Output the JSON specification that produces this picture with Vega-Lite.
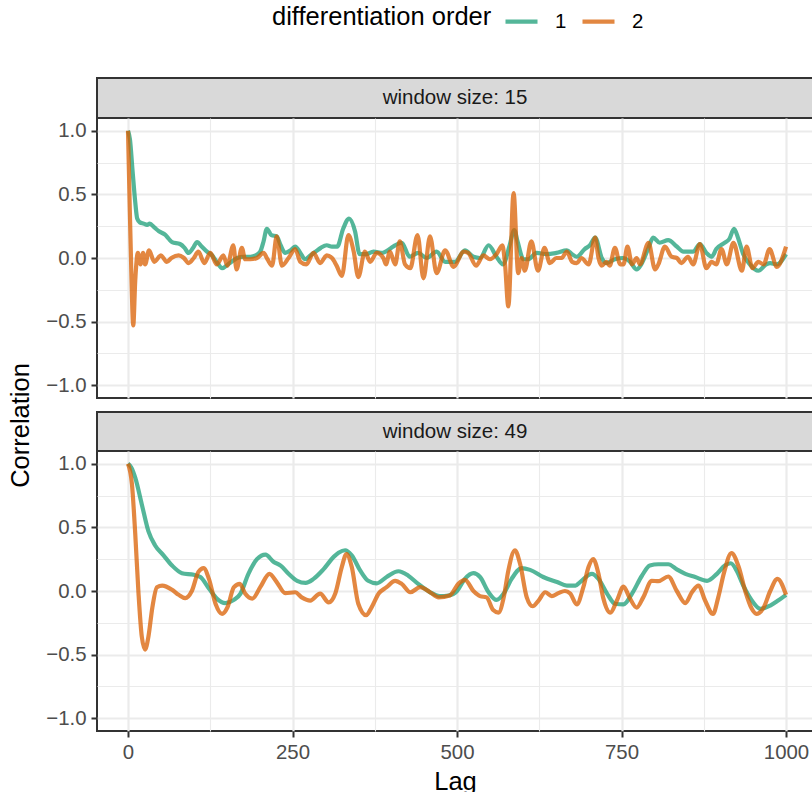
{
  "$schema": "https://vega.github.io/schema/vega-lite/v6.json",
  "padding": {"left": 7, "top": 3, "right": 0, "bottom": 0},
  "datasets": {
    "w15": [
      {"lag":0,"r":1.0,"order":"1"},{"lag":3,"r":0.93,"order":"1"},{"lag":7,"r":0.68,"order":"1"},{"lag":11,"r":0.44,"order":"1"},{"lag":14,"r":0.31,"order":"1"},{"lag":18,"r":0.28,"order":"1"},{"lag":24,"r":0.27,"order":"1"},{"lag":29,"r":0.26,"order":"1"},{"lag":33,"r":0.27,"order":"1"},{"lag":40,"r":0.24,"order":"1"},{"lag":47,"r":0.21,"order":"1"},{"lag":57,"r":0.18,"order":"1"},{"lag":62,"r":0.15,"order":"1"},{"lag":67,"r":0.125,"order":"1"},{"lag":79,"r":0.11,"order":"1"},{"lag":86,"r":0.08,"order":"1"},{"lag":92,"r":0.04,"order":"1"},{"lag":99,"r":0.08,"order":"1"},{"lag":105,"r":0.125,"order":"1"},{"lag":112,"r":0.09,"order":"1"},{"lag":120,"r":0.05,"order":"1"},{"lag":128,"r":0.02,"order":"1"},{"lag":136,"r":-0.04,"order":"1"},{"lag":143,"r":-0.08,"order":"1"},{"lag":152,"r":-0.05,"order":"1"},{"lag":160,"r":-0.02,"order":"1"},{"lag":166,"r":0.0,"order":"1"},{"lag":176,"r":0.01,"order":"1"},{"lag":186,"r":0.01,"order":"1"},{"lag":194,"r":0.02,"order":"1"},{"lag":201,"r":0.05,"order":"1"},{"lag":206,"r":0.13,"order":"1"},{"lag":211,"r":0.23,"order":"1"},{"lag":218,"r":0.18,"order":"1"},{"lag":226,"r":0.17,"order":"1"},{"lag":232,"r":0.1,"order":"1"},{"lag":239,"r":0.04,"order":"1"},{"lag":247,"r":0.06,"order":"1"},{"lag":254,"r":0.09,"order":"1"},{"lag":262,"r":0.04,"order":"1"},{"lag":269,"r":-0.01,"order":"1"},{"lag":277,"r":0.02,"order":"1"},{"lag":285,"r":0.05,"order":"1"},{"lag":293,"r":0.08,"order":"1"},{"lag":302,"r":0.1,"order":"1"},{"lag":310,"r":0.09,"order":"1"},{"lag":318,"r":0.09,"order":"1"},{"lag":327,"r":0.23,"order":"1"},{"lag":336,"r":0.31,"order":"1"},{"lag":345,"r":0.21,"order":"1"},{"lag":352,"r":0.03,"order":"1"},{"lag":362,"r":0.03,"order":"1"},{"lag":373,"r":0.05,"order":"1"},{"lag":387,"r":0.04,"order":"1"},{"lag":395,"r":0.06,"order":"1"},{"lag":403,"r":0.09,"order":"1"},{"lag":416,"r":0.12,"order":"1"},{"lag":428,"r":0.01,"order":"1"},{"lag":441,"r":0.04,"order":"1"},{"lag":454,"r":0.0,"order":"1"},{"lag":469,"r":0.05,"order":"1"},{"lag":482,"r":-0.03,"order":"1"},{"lag":497,"r":-0.03,"order":"1"},{"lag":512,"r":0.06,"order":"1"},{"lag":525,"r":0.01,"order":"1"},{"lag":535,"r":0.0,"order":"1"},{"lag":548,"r":0.1,"order":"1"},{"lag":560,"r":0.01,"order":"1"},{"lag":570,"r":-0.05,"order":"1"},{"lag":580,"r":0.1,"order":"1"},{"lag":587,"r":0.22,"order":"1"},{"lag":592,"r":0.13,"order":"1"},{"lag":601,"r":-0.01,"order":"1"},{"lag":608,"r":-0.01,"order":"1"},{"lag":621,"r":0.04,"order":"1"},{"lag":636,"r":0.03,"order":"1"},{"lag":651,"r":0.04,"order":"1"},{"lag":667,"r":0.06,"order":"1"},{"lag":675,"r":0.03,"order":"1"},{"lag":682,"r":0.01,"order":"1"},{"lag":694,"r":0.07,"order":"1"},{"lag":702,"r":0.1,"order":"1"},{"lag":710,"r":0.16,"order":"1"},{"lag":720,"r":0.0,"order":"1"},{"lag":727,"r":-0.04,"order":"1"},{"lag":740,"r":-0.01,"order":"1"},{"lag":752,"r":0.0,"order":"1"},{"lag":763,"r":-0.03,"order":"1"},{"lag":773,"r":-0.09,"order":"1"},{"lag":780,"r":-0.05,"order":"1"},{"lag":791,"r":0.08,"order":"1"},{"lag":798,"r":0.16,"order":"1"},{"lag":808,"r":0.12,"order":"1"},{"lag":821,"r":0.14,"order":"1"},{"lag":834,"r":0.09,"order":"1"},{"lag":844,"r":0.05,"order":"1"},{"lag":859,"r":0.05,"order":"1"},{"lag":869,"r":0.11,"order":"1"},{"lag":879,"r":0.04,"order":"1"},{"lag":887,"r":0.01,"order":"1"},{"lag":894,"r":0.07,"order":"1"},{"lag":907,"r":0.12,"order":"1"},{"lag":914,"r":0.15,"order":"1"},{"lag":921,"r":0.23,"order":"1"},{"lag":927,"r":0.16,"order":"1"},{"lag":935,"r":0.03,"order":"1"},{"lag":945,"r":-0.05,"order":"1"},{"lag":958,"r":-0.1,"order":"1"},{"lag":970,"r":-0.05,"order":"1"},{"lag":976,"r":-0.04,"order":"1"},{"lag":986,"r":-0.05,"order":"1"},{"lag":1000,"r":0.03,"order":"1"},
      {"lag":0,"r":1.0,"order":"2"},{"lag":2,"r":0.55,"order":"2"},{"lag":5,"r":-0.1,"order":"2"},{"lag":8,"r":-0.53,"order":"2"},{"lag":11,"r":-0.18,"order":"2"},{"lag":15,"r":0.04,"order":"2"},{"lag":19,"r":-0.05,"order":"2"},{"lag":23,"r":0.04,"order":"2"},{"lag":26,"r":-0.05,"order":"2"},{"lag":32,"r":0.06,"order":"2"},{"lag":40,"r":-0.03,"order":"2"},{"lag":50,"r":0.02,"order":"2"},{"lag":59,"r":-0.03,"order":"2"},{"lag":66,"r":0.0,"order":"2"},{"lag":77,"r":0.02,"order":"2"},{"lag":85,"r":0.0,"order":"2"},{"lag":92,"r":-0.04,"order":"2"},{"lag":100,"r":0.0,"order":"2"},{"lag":107,"r":0.05,"order":"2"},{"lag":116,"r":-0.04,"order":"2"},{"lag":125,"r":0.04,"order":"2"},{"lag":135,"r":-0.05,"order":"2"},{"lag":145,"r":0.02,"order":"2"},{"lag":151,"r":-0.06,"order":"2"},{"lag":160,"r":0.1,"order":"2"},{"lag":165,"r":-0.09,"order":"2"},{"lag":173,"r":0.08,"order":"2"},{"lag":178,"r":-0.01,"order":"2"},{"lag":186,"r":-0.01,"order":"2"},{"lag":196,"r":0.0,"order":"2"},{"lag":206,"r":0.04,"order":"2"},{"lag":212,"r":-0.01,"order":"2"},{"lag":219,"r":-0.06,"order":"2"},{"lag":226,"r":0.17,"order":"2"},{"lag":234,"r":-0.06,"order":"2"},{"lag":244,"r":0.0,"order":"2"},{"lag":254,"r":0.07,"order":"2"},{"lag":262,"r":-0.03,"order":"2"},{"lag":271,"r":-0.05,"order":"2"},{"lag":282,"r":0.04,"order":"2"},{"lag":292,"r":-0.04,"order":"2"},{"lag":302,"r":0.02,"order":"2"},{"lag":310,"r":0.0,"order":"2"},{"lag":317,"r":-0.06,"order":"2"},{"lag":325,"r":-0.14,"order":"2"},{"lag":335,"r":0.18,"order":"2"},{"lag":343,"r":0.05,"order":"2"},{"lag":350,"r":-0.15,"order":"2"},{"lag":360,"r":0.05,"order":"2"},{"lag":368,"r":-0.03,"order":"2"},{"lag":378,"r":0.04,"order":"2"},{"lag":388,"r":0.0,"order":"2"},{"lag":392,"r":-0.05,"order":"2"},{"lag":398,"r":0.05,"order":"2"},{"lag":406,"r":-0.05,"order":"2"},{"lag":413,"r":0.13,"order":"2"},{"lag":421,"r":-0.05,"order":"2"},{"lag":429,"r":-0.08,"order":"2"},{"lag":440,"r":0.18,"order":"2"},{"lag":449,"r":-0.16,"order":"2"},{"lag":459,"r":0.17,"order":"2"},{"lag":469,"r":-0.12,"order":"2"},{"lag":482,"r":0.06,"order":"2"},{"lag":495,"r":-0.07,"order":"2"},{"lag":510,"r":0.05,"order":"2"},{"lag":517,"r":0.04,"order":"2"},{"lag":529,"r":-0.06,"order":"2"},{"lag":540,"r":0.02,"order":"2"},{"lag":550,"r":-0.01,"order":"2"},{"lag":560,"r":0.03,"order":"2"},{"lag":569,"r":0.1,"order":"2"},{"lag":573,"r":-0.05,"order":"2"},{"lag":578,"r":-0.38,"order":"2"},{"lag":586,"r":0.51,"order":"2"},{"lag":593,"r":-0.12,"order":"2"},{"lag":598,"r":0.0,"order":"2"},{"lag":603,"r":-0.1,"order":"2"},{"lag":613,"r":0.13,"order":"2"},{"lag":623,"r":-0.1,"order":"2"},{"lag":633,"r":0.08,"order":"2"},{"lag":641,"r":-0.04,"order":"2"},{"lag":651,"r":0.0,"order":"2"},{"lag":659,"r":0.0,"order":"2"},{"lag":667,"r":0.05,"order":"2"},{"lag":675,"r":-0.03,"order":"2"},{"lag":682,"r":-0.04,"order":"2"},{"lag":689,"r":0.0,"order":"2"},{"lag":700,"r":-0.05,"order":"2"},{"lag":710,"r":0.16,"order":"2"},{"lag":715,"r":0.0,"order":"2"},{"lag":720,"r":-0.06,"order":"2"},{"lag":727,"r":-0.03,"order":"2"},{"lag":732,"r":-0.06,"order":"2"},{"lag":740,"r":0.08,"order":"2"},{"lag":748,"r":-0.05,"order":"2"},{"lag":753,"r":-0.05,"order":"2"},{"lag":759,"r":0.09,"order":"2"},{"lag":766,"r":-0.05,"order":"2"},{"lag":773,"r":0.0,"order":"2"},{"lag":778,"r":-0.05,"order":"2"},{"lag":791,"r":0.12,"order":"2"},{"lag":801,"r":-0.09,"order":"2"},{"lag":806,"r":-0.05,"order":"2"},{"lag":816,"r":0.09,"order":"2"},{"lag":826,"r":0.01,"order":"2"},{"lag":834,"r":0.0,"order":"2"},{"lag":841,"r":-0.04,"order":"2"},{"lag":851,"r":0.01,"order":"2"},{"lag":859,"r":-0.05,"order":"2"},{"lag":869,"r":0.11,"order":"2"},{"lag":879,"r":-0.08,"order":"2"},{"lag":887,"r":-0.03,"order":"2"},{"lag":894,"r":-0.05,"order":"2"},{"lag":902,"r":0.07,"order":"2"},{"lag":910,"r":-0.05,"order":"2"},{"lag":920,"r":0.12,"order":"2"},{"lag":933,"r":-0.1,"order":"2"},{"lag":940,"r":0.09,"order":"2"},{"lag":949,"r":-0.08,"order":"2"},{"lag":958,"r":-0.03,"order":"2"},{"lag":966,"r":-0.05,"order":"2"},{"lag":975,"r":0.07,"order":"2"},{"lag":986,"r":-0.07,"order":"2"},{"lag":1000,"r":0.09,"order":"2"}
    ],
    "w49": [
      {"lag":0,"r":1.0,"order":"1"},{"lag":5,"r":0.97,"order":"1"},{"lag":11,"r":0.89,"order":"1"},{"lag":21,"r":0.68,"order":"1"},{"lag":31,"r":0.47,"order":"1"},{"lag":41,"r":0.36,"order":"1"},{"lag":54,"r":0.28,"order":"1"},{"lag":67,"r":0.2,"order":"1"},{"lag":82,"r":0.14,"order":"1"},{"lag":100,"r":0.127,"order":"1"},{"lag":110,"r":0.11,"order":"1"},{"lag":123,"r":0.02,"order":"1"},{"lag":135,"r":-0.06,"order":"1"},{"lag":148,"r":-0.095,"order":"1"},{"lag":161,"r":-0.07,"order":"1"},{"lag":171,"r":-0.02,"order":"1"},{"lag":183,"r":0.135,"order":"1"},{"lag":196,"r":0.25,"order":"1"},{"lag":209,"r":0.286,"order":"1"},{"lag":221,"r":0.23,"order":"1"},{"lag":232,"r":0.2,"order":"1"},{"lag":244,"r":0.135,"order":"1"},{"lag":257,"r":0.08,"order":"1"},{"lag":270,"r":0.064,"order":"1"},{"lag":282,"r":0.095,"order":"1"},{"lag":297,"r":0.17,"order":"1"},{"lag":313,"r":0.27,"order":"1"},{"lag":320,"r":0.3,"order":"1"},{"lag":330,"r":0.32,"order":"1"},{"lag":340,"r":0.28,"order":"1"},{"lag":353,"r":0.16,"order":"1"},{"lag":365,"r":0.08,"order":"1"},{"lag":378,"r":0.06,"order":"1"},{"lag":393,"r":0.11,"order":"1"},{"lag":411,"r":0.155,"order":"1"},{"lag":426,"r":0.12,"order":"1"},{"lag":441,"r":0.056,"order":"1"},{"lag":459,"r":-0.01,"order":"1"},{"lag":474,"r":-0.04,"order":"1"},{"lag":487,"r":-0.035,"order":"1"},{"lag":500,"r":0.0,"order":"1"},{"lag":512,"r":0.095,"order":"1"},{"lag":525,"r":0.14,"order":"1"},{"lag":535,"r":0.11,"order":"1"},{"lag":548,"r":-0.01,"order":"1"},{"lag":560,"r":-0.07,"order":"1"},{"lag":571,"r":-0.02,"order":"1"},{"lag":583,"r":0.095,"order":"1"},{"lag":598,"r":0.18,"order":"1"},{"lag":611,"r":0.166,"order":"1"},{"lag":631,"r":0.11,"order":"1"},{"lag":652,"r":0.07,"order":"1"},{"lag":667,"r":0.043,"order":"1"},{"lag":680,"r":0.043,"order":"1"},{"lag":687,"r":0.07,"order":"1"},{"lag":705,"r":0.135,"order":"1"},{"lag":715,"r":0.095,"order":"1"},{"lag":728,"r":-0.02,"order":"1"},{"lag":740,"r":-0.1,"order":"1"},{"lag":753,"r":-0.105,"order":"1"},{"lag":766,"r":-0.02,"order":"1"},{"lag":781,"r":0.12,"order":"1"},{"lag":793,"r":0.2,"order":"1"},{"lag":806,"r":0.21,"order":"1"},{"lag":821,"r":0.21,"order":"1"},{"lag":834,"r":0.17,"order":"1"},{"lag":847,"r":0.135,"order":"1"},{"lag":862,"r":0.11,"order":"1"},{"lag":880,"r":0.08,"order":"1"},{"lag":895,"r":0.135,"order":"1"},{"lag":907,"r":0.2,"order":"1"},{"lag":916,"r":0.218,"order":"1"},{"lag":925,"r":0.16,"order":"1"},{"lag":935,"r":0.043,"order":"1"},{"lag":948,"r":-0.075,"order":"1"},{"lag":961,"r":-0.14,"order":"1"},{"lag":976,"r":-0.114,"order":"1"},{"lag":988,"r":-0.075,"order":"1"},{"lag":1000,"r":-0.03,"order":"1"},
      {"lag":0,"r":1.0,"order":"2"},{"lag":6,"r":0.84,"order":"2"},{"lag":11,"r":0.45,"order":"2"},{"lag":16,"r":-0.02,"order":"2"},{"lag":21,"r":-0.36,"order":"2"},{"lag":26,"r":-0.46,"order":"2"},{"lag":31,"r":-0.36,"order":"2"},{"lag":37,"r":-0.13,"order":"2"},{"lag":44,"r":0.03,"order":"2"},{"lag":52,"r":0.043,"order":"2"},{"lag":67,"r":0.01,"order":"2"},{"lag":77,"r":-0.03,"order":"2"},{"lag":87,"r":-0.056,"order":"2"},{"lag":97,"r":0.0,"order":"2"},{"lag":107,"r":0.15,"order":"2"},{"lag":115,"r":0.18,"order":"2"},{"lag":123,"r":0.095,"order":"2"},{"lag":133,"r":-0.1,"order":"2"},{"lag":143,"r":-0.18,"order":"2"},{"lag":151,"r":-0.13,"order":"2"},{"lag":161,"r":0.03,"order":"2"},{"lag":170,"r":0.056,"order":"2"},{"lag":178,"r":-0.02,"order":"2"},{"lag":189,"r":-0.06,"order":"2"},{"lag":201,"r":0.03,"order":"2"},{"lag":215,"r":0.135,"order":"2"},{"lag":226,"r":0.07,"order":"2"},{"lag":239,"r":-0.017,"order":"2"},{"lag":254,"r":-0.01,"order":"2"},{"lag":264,"r":-0.05,"order":"2"},{"lag":277,"r":-0.075,"order":"2"},{"lag":292,"r":-0.02,"order":"2"},{"lag":305,"r":-0.09,"order":"2"},{"lag":315,"r":-0.02,"order":"2"},{"lag":325,"r":0.19,"order":"2"},{"lag":332,"r":0.29,"order":"2"},{"lag":340,"r":0.19,"order":"2"},{"lag":350,"r":-0.1,"order":"2"},{"lag":362,"r":-0.19,"order":"2"},{"lag":370,"r":-0.13,"order":"2"},{"lag":381,"r":-0.02,"order":"2"},{"lag":393,"r":0.03,"order":"2"},{"lag":406,"r":0.08,"order":"2"},{"lag":416,"r":0.056,"order":"2"},{"lag":429,"r":-0.01,"order":"2"},{"lag":444,"r":0.03,"order":"2"},{"lag":459,"r":-0.01,"order":"2"},{"lag":472,"r":-0.05,"order":"2"},{"lag":489,"r":-0.035,"order":"2"},{"lag":502,"r":0.056,"order":"2"},{"lag":512,"r":0.088,"order":"2"},{"lag":525,"r":0.0,"order":"2"},{"lag":535,"r":-0.04,"order":"2"},{"lag":545,"r":-0.05,"order":"2"},{"lag":555,"r":-0.15,"order":"2"},{"lag":563,"r":-0.17,"order":"2"},{"lag":571,"r":-0.05,"order":"2"},{"lag":578,"r":0.16,"order":"2"},{"lag":588,"r":0.32,"order":"2"},{"lag":596,"r":0.21,"order":"2"},{"lag":606,"r":-0.05,"order":"2"},{"lag":615,"r":-0.12,"order":"2"},{"lag":624,"r":-0.075,"order":"2"},{"lag":634,"r":-0.01,"order":"2"},{"lag":644,"r":-0.04,"order":"2"},{"lag":654,"r":-0.017,"order":"2"},{"lag":664,"r":0.0,"order":"2"},{"lag":672,"r":-0.02,"order":"2"},{"lag":682,"r":-0.105,"order":"2"},{"lag":692,"r":0.03,"order":"2"},{"lag":700,"r":0.19,"order":"2"},{"lag":707,"r":0.25,"order":"2"},{"lag":715,"r":0.135,"order":"2"},{"lag":722,"r":-0.05,"order":"2"},{"lag":733,"r":-0.17,"order":"2"},{"lag":743,"r":-0.075,"order":"2"},{"lag":753,"r":0.035,"order":"2"},{"lag":762,"r":-0.05,"order":"2"},{"lag":773,"r":-0.13,"order":"2"},{"lag":783,"r":-0.05,"order":"2"},{"lag":796,"r":0.08,"order":"2"},{"lag":806,"r":0.077,"order":"2"},{"lag":821,"r":0.114,"order":"2"},{"lag":834,"r":0.0,"order":"2"},{"lag":847,"r":-0.095,"order":"2"},{"lag":857,"r":-0.01,"order":"2"},{"lag":867,"r":0.043,"order":"2"},{"lag":877,"r":-0.075,"order":"2"},{"lag":889,"r":-0.18,"order":"2"},{"lag":897,"r":-0.05,"order":"2"},{"lag":906,"r":0.148,"order":"2"},{"lag":917,"r":0.297,"order":"2"},{"lag":928,"r":0.19,"order":"2"},{"lag":938,"r":0.0,"order":"2"},{"lag":948,"r":-0.14,"order":"2"},{"lag":955,"r":-0.18,"order":"2"},{"lag":966,"r":-0.13,"order":"2"},{"lag":976,"r":0.0,"order":"2"},{"lag":987,"r":0.095,"order":"2"},{"lag":1000,"r":-0.03,"order":"2"}
    ]
  },
  "spacing": -38,
  "vconcat": [
    {
      "spacing": 0,
      "bounds": "flush",
      "vconcat": [
        {
          "width": 716, "height": 40,
          "view": {"fill": "#D9D9D9", "stroke": "#333333", "strokeWidth": 2},
          "data": {"values": [{"label": "window size: 15"}]},
          "mark": {"type": "text", "fontSize": 20.5, "color": "#1A1A1A"},
          "encoding": {"text": {"field": "label"}}
        },
        {
          "width": 716, "height": 280,
          "data": {"name": "w15"},
          "mark": {"type": "line", "strokeWidth": 4.2, "opacity": 0.75, "interpolate": "monotone"},
          "encoding": {
            "x": {"field": "lag", "type": "quantitative",
                  "scale": {"domain": [-47.1, 1041], "nice": false, "zero": false},
                  "axis": {"values": [0,125,250,375,500,625,750,875,1000], "labels": false, "ticks": false, "domain": false, "title": null,
                           "gridWidth": {"condition": {"test": "datum.value % 250 === 0", "value": 2.2}, "value": 1.1}}},
            "y": {"field": "r", "type": "quantitative",
                  "scale": {"domain": [-1.1, 1.1], "nice": false, "zero": false},
                  "axis": {"values": [-1,-0.75,-0.5,-0.25,0,0.25,0.5,0.75,1], "format": ".1f", "title": null,
                           "labelExpr": "datum.value * 2 == round(datum.value * 2) ? datum.label : ''",
                           "tickOpacity": {"condition": {"test": "datum.value * 2 == round(datum.value * 2)", "value": 1}, "value": 0},
                           "gridWidth": {"condition": {"test": "datum.value * 2 == round(datum.value * 2)", "value": 2.2}, "value": 1.1}}},
            "color": {"field": "order", "type": "nominal",
                      "scale": {"domain": ["1", "2"], "range": ["#1B9E77", "#D95F02"]},
                      "legend": {"orient": "none", "legendX": 175, "legendY": -75, "direction": "horizontal", "title": "differentiation order",
                                 "titleOrient": "left", "titleFontSize": 25.5, "titleFontWeight": "normal", "titleColor": "#000000", "titlePadding": 11,
                                 "titleLimit": 500, "titleBaseline": "middle", "titleAnchor": "middle",
                                 "labelFontSize": 20.4, "labelColor": "#000000", "symbolType": "stroke", "symbolStrokeWidth": 4.2, "symbolSize": 1024,
                                 "symbolOpacity": 0.75, "labelOffset": 15, "columnPadding": 7}}
          }
        }
      ]
    },
    {
      "spacing": 0,
      "bounds": "flush",
      "vconcat": [
        {
          "width": 716, "height": 39,
          "view": {"fill": "#D9D9D9", "stroke": "#333333", "strokeWidth": 2},
          "data": {"values": [{"label": "window size: 49"}]},
          "mark": {"type": "text", "fontSize": 20.5, "color": "#1A1A1A"},
          "encoding": {"text": {"field": "label"}}
        },
        {
          "width": 716, "height": 280,
          "data": {"name": "w49"},
          "mark": {"type": "line", "strokeWidth": 4.2, "opacity": 0.75, "interpolate": "monotone"},
          "encoding": {
            "x": {"field": "lag", "type": "quantitative",
                  "scale": {"domain": [-47.1, 1041], "nice": false, "zero": false},
                  "axis": {"values": [0,125,250,375,500,625,750,875,1000], "format": "d", "title": "Lag", "titlePadding": 7, "labelPadding": 5,
                           "labelFlush": false, "labelOverlap": false, "domain": false,
                           "labelExpr": "datum.value % 250 === 0 ? datum.label : ''",
                           "tickOpacity": {"condition": {"test": "datum.value % 250 === 0", "value": 1}, "value": 0},
                           "gridWidth": {"condition": {"test": "datum.value % 250 === 0", "value": 2.2}, "value": 1.1}}},
            "y": {"field": "r", "type": "quantitative",
                  "scale": {"domain": [-1.1, 1.1], "nice": false, "zero": false},
                  "axis": {"values": [-1,-0.75,-0.5,-0.25,0,0.25,0.5,0.75,1], "format": ".1f", "title": "Correlation", "titleY": -26, "titlePadding": 12,
                           "labelExpr": "datum.value * 2 == round(datum.value * 2) ? datum.label : ''",
                           "tickOpacity": {"condition": {"test": "datum.value * 2 == round(datum.value * 2)", "value": 1}, "value": 0},
                           "gridWidth": {"condition": {"test": "datum.value * 2 == round(datum.value * 2)", "value": 2.2}, "value": 1.1}}},
            "color": {"field": "order", "type": "nominal",
                      "scale": {"domain": ["1", "2"], "range": ["#1B9E77", "#D95F02"]}}
          }
        }
      ]
    }
  ],
  "resolve": {"scale": {"color": "shared"}, "legend": {"color": "shared"}},
  "config": {
    "font": "Liberation Sans",
    "view": {"stroke": "#333333", "strokeWidth": 2},
    "axis": {"domain": false, "tickColor": "#333333", "tickWidth": 2, "tickSize": 6, "labelColor": "#4D4D4D", "labelFontSize": 20.4,
             "labelPadding": 5, "titleFontSize": 25.5, "titleFontWeight": "normal", "titleColor": "#000000", "gridColor": "#EBEBEB"}
  }
}
